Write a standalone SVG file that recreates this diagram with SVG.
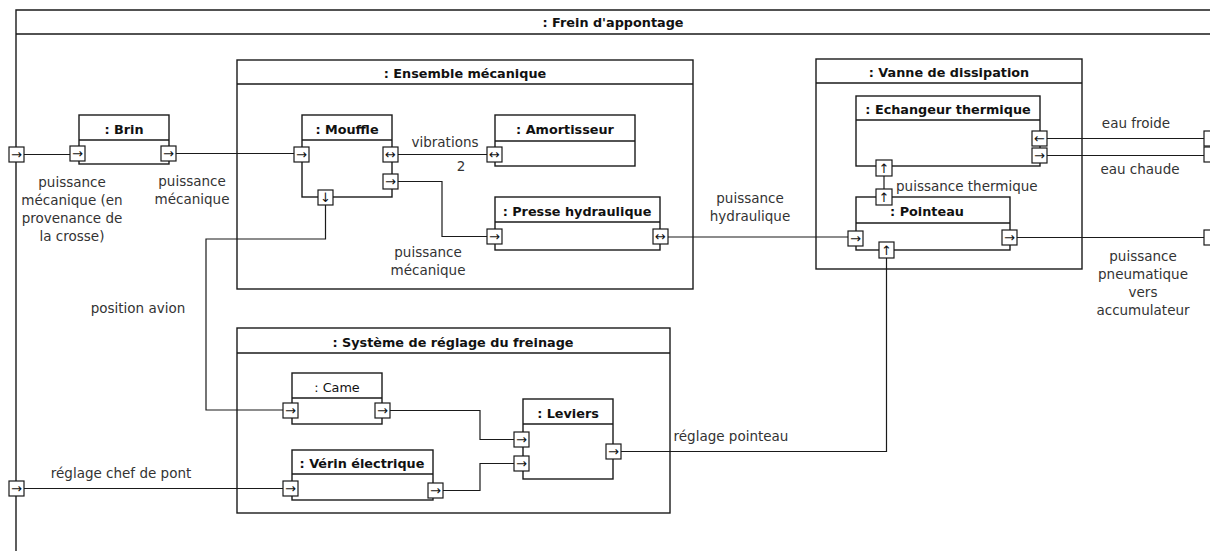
<svg xmlns="http://www.w3.org/2000/svg" width="1210" height="551" viewBox="0 0 1210 551">
<style>
.frame{fill:none;stroke:#1a1a1a;stroke-width:1.4}
.box{fill:#fff;stroke:#1a1a1a;stroke-width:1.4}
.hd{stroke:#1a1a1a;stroke-width:1.4}
.port{fill:#fff;stroke:#1a1a1a;stroke-width:1.2}
.wire{fill:none;stroke:#1a1a1a;stroke-width:1.2}
.ttl{font-family:"DejaVu Sans",sans-serif;font-weight:bold;font-size:12.8px;fill:#111;text-anchor:middle}
.lbl{font-family:"DejaVu Sans",sans-serif;font-size:13.5px;fill:#333;text-anchor:middle}
.pa{font-family:"DejaVu Sans",sans-serif;font-size:13px;fill:#111;text-anchor:middle}
</style>
<rect width="1210" height="551" fill="#fff"/>

<!-- outer frame -->
<g id="frein">
<path class="frame" d="M16 551 V10 H1210 M16 34 H1210" />
<text class="ttl" x="613" y="27">: Frein d'appontage</text>
<rect class="port" x="9" y="147" width="15" height="15"/><text class="pa" x="16.5" y="159">→</text>
<rect class="port" x="9" y="481" width="15" height="15"/><text class="pa" x="16.5" y="493">→</text>
<rect class="port" x="1204" y="131" width="15" height="15"/>
<rect class="port" x="1204" y="147" width="15" height="15"/>
<rect class="port" x="1204" y="230" width="15" height="15"/>
</g>

<!-- containers -->
<g id="ensemble">
<rect class="frame" x="237" y="60" width="456" height="229"/>
<line class="hd" x1="237" y1="84" x2="693" y2="84"/>
<text class="ttl" x="465" y="78">: Ensemble mécanique</text>
</g>
<g id="vanne">
<rect class="frame" x="816" y="59" width="266" height="210"/>
<line class="hd" x1="816" y1="83" x2="1082" y2="83"/>
<text class="ttl" x="949" y="77">: Vanne de dissipation</text>
</g>
<g id="systeme">
<rect class="frame" x="237" y="328" width="433" height="185"/>
<line class="hd" x1="237" y1="353" x2="670" y2="353"/>
<text class="ttl" x="453" y="347">: Système de réglage du freinage</text>
</g>

<!-- connectors -->
<g id="connectors">
<path class="wire" d="M24 154.5 H70"/>
<path class="wire" d="M176 153.5 H294"/>
<path class="wire" d="M398 154.5 H487"/>
<path class="wire" d="M398 181.5 H442 V236.5 H487"/>
<path class="wire" d="M668 237 H848"/>
<path class="wire" d="M325.5 205 V239 H206 V410 H283"/>
<path class="wire" d="M1047 138.5 H1204"/>
<path class="wire" d="M1047 155.5 H1204"/>
<path class="wire" d="M1017 237.5 H1204"/>
<path class="wire" d="M884 176 V189"/>
<path class="wire" d="M24 488.5 H283"/>
<path class="wire" d="M390 410.5 H480 V439.5 H514"/>
<path class="wire" d="M443 490.5 H480 V463.5 H514"/>
<path class="wire" d="M621 451.5 H886.5 V258"/>
</g>

<!-- connector labels -->
<g id="labels">
<text class="lbl" x="72" y="187">puissance</text>
<text class="lbl" x="72" y="205">mécanique (en</text>
<text class="lbl" x="72" y="223">provenance de</text>
<text class="lbl" x="72" y="241">la crosse)</text>
<text class="lbl" x="192" y="186">puissance</text>
<text class="lbl" x="192" y="204">mécanique</text>
<text class="lbl" x="445" y="147">vibrations</text>
<text class="lbl" x="461" y="171">2</text>
<text class="lbl" x="428" y="257">puissance</text>
<text class="lbl" x="428" y="275">mécanique</text>
<text class="lbl" x="750" y="203">puissance</text>
<text class="lbl" x="750" y="221">hydraulique</text>
<text class="lbl" x="896" y="191" style="text-anchor:start">puissance thermique</text>
<text class="lbl" x="1136" y="128">eau froide</text>
<text class="lbl" x="1140" y="174">eau chaude</text>
<text class="lbl" x="1143" y="261">puissance</text>
<text class="lbl" x="1143" y="279">pneumatique</text>
<text class="lbl" x="1143" y="297">vers</text>
<text class="lbl" x="1143" y="315">accumulateur</text>
<text class="lbl" x="138" y="313">position avion</text>
<text class="lbl" x="121" y="478">réglage chef de pont</text>
<text class="lbl" x="731" y="441">réglage pointeau</text>
</g>

<!-- parts -->
<g id="brin">
<rect class="box" x="79" y="115" width="90" height="49"/>
<line class="hd" x1="79" y1="140" x2="169" y2="140"/>
<text class="ttl" x="124" y="134">: Brin</text>
<rect class="port" x="70" y="146" width="15" height="15"/><text class="pa" x="77.5" y="158">→</text>
<rect class="port" x="161" y="146" width="15" height="15"/><text class="pa" x="168.5" y="158">→</text>
</g>

<g id="mouffle">
<rect class="box" x="302" y="115" width="90" height="82"/>
<line class="hd" x1="302" y1="140" x2="392" y2="140"/>
<text class="ttl" x="347" y="134">: Mouffle</text>
<rect class="port" x="294" y="147" width="15" height="15"/><text class="pa" x="301.5" y="159">→</text>
<rect class="port" x="383" y="147" width="15" height="15"/><text class="pa" x="390.5" y="159">↔</text>
<rect class="port" x="383" y="174" width="15" height="15"/><text class="pa" x="390.5" y="186">→</text>
<rect class="port" x="318" y="190" width="15" height="15"/><text class="pa" x="325.5" y="202">↓</text>
</g>

<g id="amortisseur">
<rect class="box" x="495" y="115" width="140" height="51"/>
<line class="hd" x1="495" y1="141" x2="635" y2="141"/>
<text class="ttl" x="565" y="134">: Amortisseur</text>
<rect class="port" x="487" y="147" width="15" height="15"/><text class="pa" x="494.5" y="159">↔</text>
</g>

<g id="presse">
<rect class="box" x="495" y="197" width="165" height="53"/>
<line class="hd" x1="495" y1="222" x2="660" y2="222"/>
<text class="ttl" x="577" y="216">: Presse hydraulique</text>
<rect class="port" x="487" y="229" width="15" height="15"/><text class="pa" x="494.5" y="241">→</text>
<rect class="port" x="653" y="229" width="15" height="15"/><text class="pa" x="660.5" y="241">↔</text>
</g>

<g id="echangeur">
<rect class="box" x="856" y="96" width="184" height="70"/>
<line class="hd" x1="856" y1="120" x2="1040" y2="120"/>
<text class="ttl" x="948" y="114">: Echangeur thermique</text>
<rect class="port" x="1032" y="131" width="15" height="15"/><text class="pa" x="1039.5" y="143">←</text>
<rect class="port" x="1032" y="148" width="15" height="15"/><text class="pa" x="1039.5" y="160">→</text>
<rect class="port" x="876" y="160" width="16" height="16"/><text class="pa" x="884" y="172.5">↑</text>
</g>

<g id="pointeau">
<rect class="box" x="856" y="197" width="154" height="53"/>
<line class="hd" x1="856" y1="223" x2="1010" y2="223"/>
<text class="ttl" x="927" y="216">: Pointeau</text>
<rect class="port" x="876" y="189" width="16" height="16"/><text class="pa" x="884" y="201.5">↑</text>
<rect class="port" x="848" y="231" width="15" height="15"/><text class="pa" x="855.5" y="243">→</text>
<rect class="port" x="1002" y="230" width="15" height="15"/><text class="pa" x="1009.5" y="242">→</text>
<rect class="port" x="879" y="242" width="15" height="16"/><text class="pa" x="886.5" y="254.5">↑</text>
</g>

<g id="came">
<rect class="box" x="292" y="373" width="90" height="51"/>
<line class="hd" x1="292" y1="398" x2="382" y2="398"/>
<text class="ttl" x="337" y="392" style="font-weight:normal">: Came</text>
<rect class="port" x="283" y="403" width="15" height="15"/><text class="pa" x="290.5" y="415">→</text>
<rect class="port" x="375" y="403" width="15" height="15"/><text class="pa" x="382.5" y="415">→</text>
</g>

<g id="verin">
<rect class="box" x="292" y="450" width="141" height="50"/>
<line class="hd" x1="292" y1="474" x2="433" y2="474"/>
<text class="ttl" x="362" y="468">: Vérin électrique</text>
<rect class="port" x="283" y="481" width="15" height="15"/><text class="pa" x="290.5" y="493">→</text>
<rect class="port" x="428" y="483" width="15" height="15"/><text class="pa" x="435.5" y="495">→</text>
</g>

<g id="leviers">
<rect class="box" x="523" y="399" width="90" height="80"/>
<line class="hd" x1="523" y1="424" x2="613" y2="424"/>
<text class="ttl" x="568" y="418">: Leviers</text>
<rect class="port" x="514" y="432" width="15" height="15"/><text class="pa" x="521.5" y="444">→</text>
<rect class="port" x="514" y="456" width="15" height="15"/><text class="pa" x="521.5" y="468">→</text>
<rect class="port" x="606" y="444" width="15" height="15"/><text class="pa" x="613.5" y="456">→</text>
</g>
</svg>
